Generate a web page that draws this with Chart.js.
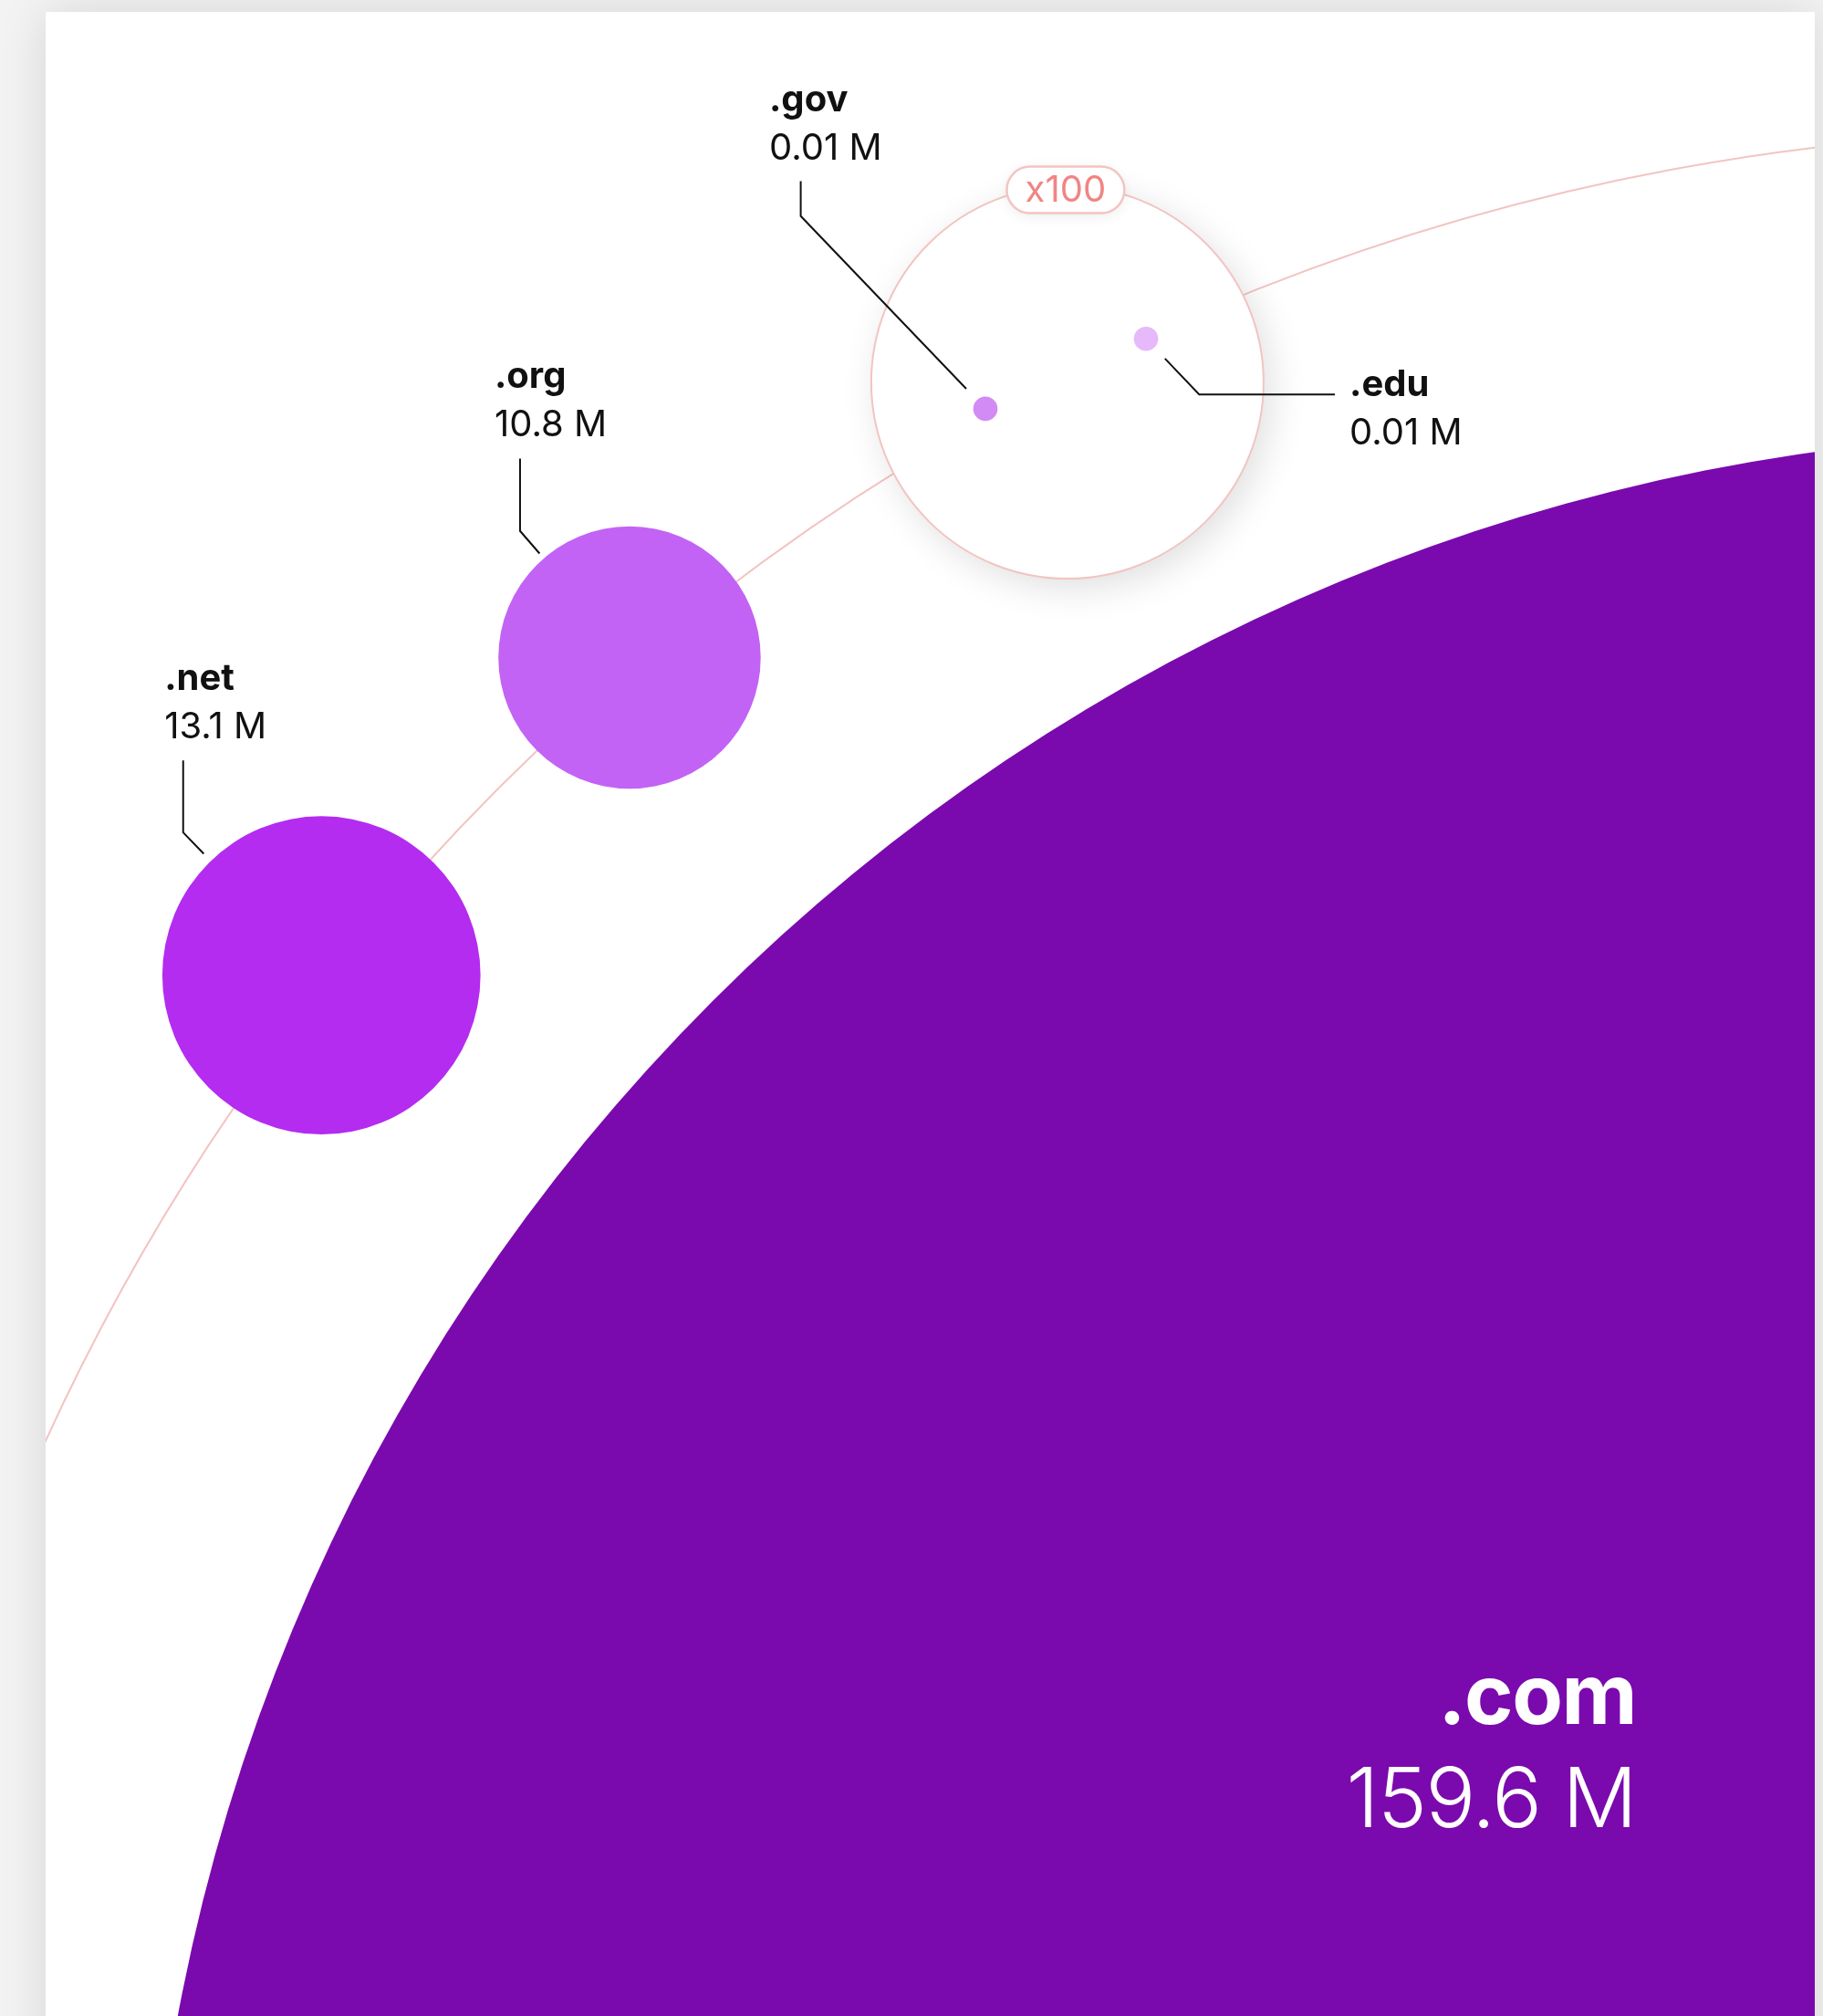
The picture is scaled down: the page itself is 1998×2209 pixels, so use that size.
<!DOCTYPE html>
<html>
<head>
<meta charset="utf-8">
<script src="https://cdn.jsdelivr.net/npm/chart.js@4.4.1/dist/chart.umd.min.js"></script>
<style>
  html, body { margin: 0; padding: 0; }
  body { width: 1998px; height: 2209px; overflow: hidden; background: #f3f3f3; position: relative; }
  #card { position: absolute; left: 50px; top: 13px; width: 1939px; height: 2300px; background: #fff;
          box-shadow: 0 0 50px rgba(0,0,0,0.12); }
  canvas { display: block; }
</style>
</head>
<body>
<div id="card"><canvas id="chart" width="1939" height="2196"></canvas></div>
<script>
// domain registrations, millions
const domains = ['.com', '.net', '.org', '.gov', '.edu'];
const registrations = [159.6, 13.1, 10.8, 0.01, 0.01];
const valueLabels = ['159.6 M', '13.1 M', '10.8 M', '0.01 M', '0.01 M'];
const zoomFactor = [1, 1, 1, 100, 100];
const colors = ['#7a0aad', '#b32cf0', '#c263f5', '#d28af5', '#e5b9fa'];

// layout (view in "million" units, .com centre at the origin)
const PX = 13.31;                       // pixels per unit
const comCenterPx = { x: 2233, y: 2586 };
const ringR = 2455 / PX;
const ringAngle = { net: -51.6, org: -40.3, lens: -27.05 };
const ringOut = { net: 0.65, org: 0.6, lens: -0.55 };
const lensR = 215;                      // px
const inLens = { gov: [-7.0, 1.14], edu: [7.4, 0.26] };   // [along ring, outward] units from lens centre

function onRing(deg, along, out) {
  const a = deg * Math.PI / 180;
  const R = ringR + (out || 0);
  return {
    x: R * Math.sin(a) + (along || 0) * Math.cos(a),
    y: R * Math.cos(a) - (along || 0) * Math.sin(a)
  };
}

const lensPt = onRing(ringAngle.lens, 0, ringOut.lens);
const points = [
  { x: 0, y: 0 },
  onRing(ringAngle.net, 0, ringOut.net),
  onRing(ringAngle.org, 0, ringOut.org),
  onRing(ringAngle.lens, inLens.gov[0], ringOut.lens + inLens.gov[1]),
  onRing(ringAngle.lens, inLens.edu[0], ringOut.lens + inLens.edu[1])
];

// label placement, px offsets from the bubble centre
const labelPos = [
  { text: [-490, -710], align: 'right' },
  { text: [-172, -313], elbow: [-151.5, -156.5], top: -235.5, gap: 11 },
  { text: [-148, -295.5], elbow: [-120, -138.8], top: -218, gap: 7 },
  { text: [-237, -326], elbow: [-202.4, -211.2], top: -249.5, gap: 17 },
  { text: [223, 63], elbow: [58.3, 61], side: 207, gap: 16.7 }
];

const W = 1939, H = 2196;
const xMin = -comCenterPx.x / PX, xMax = (W - comCenterPx.x) / PX;
const yMax = comCenterPx.y / PX, yMin = (comCenterPx.y - H) / PX;

const FONT = 'Inter, "Noto Sans", sans-serif';

function unitPx(chart) {
  const sx = chart.scales && chart.scales.x;
  let u = sx && sx.width ? Math.abs(sx.getPixelForValue(1) - sx.getPixelForValue(0)) : NaN;
  if (!isFinite(u) || u <= 0) u = chart.width / (xMax - xMin);
  return u;
}

const decor = {
  id: 'decor',
  beforeDatasetsDraw(chart) {
    const { ctx, scales: { x, y } } = chart;
    const cx = x.getPixelForValue(0), cy = y.getPixelForValue(0);
    const rr = ringR * unitPx(chart);
    ctx.save();
    ctx.strokeStyle = '#f2c4c2';
    ctx.lineWidth = 2;
    ctx.beginPath();
    ctx.arc(cx, cy, rr, 0, Math.PI * 2);
    ctx.stroke();

    const lx = x.getPixelForValue(lensPt.x), ly = y.getPixelForValue(lensPt.y);
    ctx.shadowColor = 'rgba(0,0,0,0.13)';
    ctx.shadowBlur = 40;
    ctx.shadowOffsetX = 8;
    ctx.shadowOffsetY = 10;
    ctx.fillStyle = '#fff';
    ctx.beginPath();
    ctx.arc(lx, ly, lensR, 0, Math.PI * 2);
    ctx.fill();
    ctx.shadowColor = 'transparent';
    ctx.stroke();
    ctx.restore();
  },
  afterDatasetsDraw(chart) {
    const { ctx, scales: { x, y } } = chart;
    const unit = unitPx(chart);
    ctx.save();

    // x100 pill on top of the lens
    const lx = x.getPixelForValue(lensPt.x), ly = y.getPixelForValue(lensPt.y);
    const pw = 129, ph = 51, px0 = lx - 2 - pw / 2, py0 = ly - lensR + 4 - ph / 2;
    ctx.shadowColor = 'rgba(0,0,0,0.08)';
    ctx.shadowBlur = 16;
    ctx.shadowOffsetY = 3;
    ctx.fillStyle = '#fff';
    ctx.beginPath();
    ctx.roundRect(px0, py0, pw, ph, ph / 2);
    ctx.fill();
    ctx.shadowColor = 'transparent';
    ctx.strokeStyle = '#f3c4c3';
    ctx.lineWidth = 2.5;
    ctx.stroke();
    ctx.fillStyle = '#f08584';
    ctx.font = '400 40px ' + FONT;
    ctx.textAlign = 'center';
    ctx.textBaseline = 'middle';
    ctx.fillText('x' + zoomFactor[3], px0 + pw / 2, py0 + ph / 2 + 1);

    // labels and leader lines
    ctx.textBaseline = 'alphabetic';
    domains.forEach((name, i) => {
      const p = points[i];
      const bx = x.getPixelForValue(p.x), by = y.getPixelForValue(p.y);
      const lp = labelPos[i];
      const tx = bx + lp.text[0], ty = by + lp.text[1];
      if (i === 0) {
        ctx.fillStyle = '#fff';
        ctx.textAlign = 'right';
        ctx.letterSpacing = '-1.5px';
        ctx.font = '700 91px ' + FONT;
        ctx.fillText(name, tx, ty);
        ctx.font = '300 91px ' + FONT;
        ctx.fillText(valueLabels[i], tx, ty + 113);
        ctx.letterSpacing = '0px';
        return;
      }
      ctx.fillStyle = '#111';
      ctx.textAlign = 'left';
      ctx.font = '700 40px ' + FONT;
      ctx.fillText(name, tx, ty);
      ctx.font = '400 40px ' + FONT;
      ctx.fillText(valueLabels[i], tx, ty + 53);

      const r = registrations[i] * zoomFactor[i] * unit;
      const ex = bx + lp.elbow[0], ey = by + lp.elbow[1];
      const d = Math.hypot(lp.elbow[0], lp.elbow[1]);
      const k = (r + lp.gap) / d;
      ctx.strokeStyle = '#111';
      ctx.lineWidth = 2;
      ctx.beginPath();
      if (lp.side !== undefined) ctx.moveTo(bx + lp.side, ey);
      else ctx.moveTo(ex, by + lp.top);
      ctx.lineTo(ex, ey);
      ctx.lineTo(bx + lp.elbow[0] * k, by + lp.elbow[1] * k);
      ctx.stroke();
    });
    ctx.restore();
  }
};

new Chart(document.getElementById('chart'), {
  type: 'bubble',
  data: {
    labels: domains,
    datasets: [{
      data: points,
      backgroundColor: colors,
      borderWidth: 0,
      clip: false,
      radius: (c) => {
        if (c.dataIndex === undefined) return 0;
        return registrations[c.dataIndex] * zoomFactor[c.dataIndex] * unitPx(c.chart);
      }
    }]
  },
  options: {
    responsive: false,
    animation: false,
    events: [],
    layout: { padding: 0, autoPadding: false },
    plugins: { legend: { display: false }, tooltip: { enabled: false } },
    scales: {
      x: { type: 'linear', display: false, min: xMin, max: xMax },
      y: { type: 'linear', display: false, min: yMin, max: yMax }
    }
  },
  plugins: [decor]
});
</script>
</body>
</html>
